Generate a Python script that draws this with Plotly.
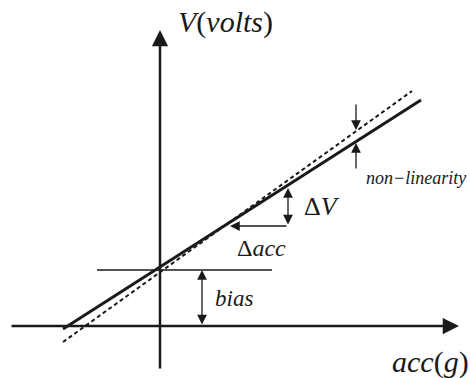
import plotly.graph_objects as go

# Sensor output (solid) and its best-fit straight line (dashed)
output_acc = [-4.85, 13.05]
output_v = [-0.15, 11.3]
fit_acc = [-4.85, 12.6]
fit_v = [-0.8, 11.75]

# Axes extents
acc_axis = [-7.5, 14.95]
v_axis = [-2.2, 14.8]

# Bias level line and its dimension arrow
bias_level = 2.8
bias_line_acc = [-3.15, 5.6]
bias_arrow_acc = 2.1

# Slope triangle (delta acc / delta V)
slope_acc = [3.5, 6.4]
slope_v = [5.0, 6.9]

# Non-linearity markers
nonlin_acc = 9.8
nonlin_outer = [11.15, 7.8]
nonlin_tips = [9.8, 9.15]

FONT = "Liberation Serif"
INK = "#1a1a1a"

fig = go.Figure()

fig.add_trace(go.Scatter(x=fit_acc, y=fit_v, mode="lines",
                         line=dict(color=INK, width=2, dash="4px,3px"),
                         hoverinfo="skip"))
fig.add_trace(go.Scatter(x=output_acc, y=output_v, mode="lines",
                         line=dict(color=INK, width=3),
                         hoverinfo="skip"))
fig.add_trace(go.Scatter(x=bias_line_acc, y=[bias_level, bias_level], mode="lines",
                         line=dict(color=INK, width=1.3),
                         hoverinfo="skip"))

def arrow(x, y, ax, ay, width, size, both=False):
    fig.add_annotation(x=x, y=y, ax=ax, ay=ay, xref="x", yref="y",
                       axref="x", ayref="y", text="", showarrow=True,
                       arrowhead=2, startarrowhead=2,
                       arrowside="end+start" if both else "end",
                       arrowsize=size, startarrowsize=size,
                       arrowwidth=width, arrowcolor=INK)

# Coordinate axes
arrow(acc_axis[1], 0, acc_axis[0], 0, 2.5, 1.3)
arrow(0, v_axis[1], 0, v_axis[0], 2.5, 1.3)

# Bias dimension
arrow(bias_arrow_acc, bias_level, bias_arrow_acc, 0, 1.3, 1.5, both=True)

# Slope triangle
arrow(slope_acc[1], slope_v[1], slope_acc[1], slope_v[0], 1.3, 1.5, both=True)
arrow(slope_acc[0], slope_v[0], slope_acc[1], slope_v[0], 1.3, 1.5)

# Non-linearity arrows
arrow(nonlin_acc, nonlin_tips[0], nonlin_acc, nonlin_outer[0], 1.3, 1.5)
arrow(nonlin_acc, nonlin_tips[1], nonlin_acc, nonlin_outer[1], 1.3, 1.5)

def label(x, y, text, size):
    fig.add_annotation(x=x, y=y, xref="x", yref="y", text=text,
                       showarrow=False, xanchor="left", yanchor="middle",
                       font=dict(family=FONT, size=size, color=INK))

label(0.8, 15.2, "<i>V</i>(<i>volts</i>)", 30)
label(11.5, -1.8, "<i>acc</i>(<i>g</i>)", 30)
label(10.2, 7.4, "<i>non\u2212linearity</i>", 18)
label(7.1, 6.0, "\u0394<i>V</i>", 26)
label(3.75, 3.9, "\u0394<i>acc</i>", 24)
label(2.65, 1.4, "<i>bias</i>", 23)

fig.update_layout(
    width=470, height=378,
    margin=dict(l=0, r=0, t=0, b=0),
    paper_bgcolor="white", plot_bgcolor="white",
    font=dict(family=FONT, color=INK),
    showlegend=False,
    xaxis=dict(range=[-8, 15.5], visible=False, fixedrange=True),
    yaxis=dict(range=[-2.6, 16.3], visible=False, fixedrange=True),
)

fig.write_html("out.html")
